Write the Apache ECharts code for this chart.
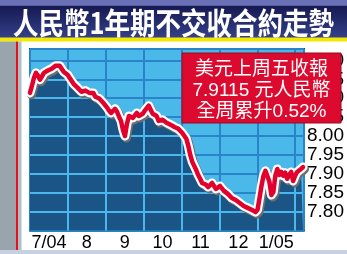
<!DOCTYPE html>
<html><head><meta charset="utf-8">
<script src="https://cdn.jsdelivr.net/npm/echarts@6/dist/echarts.min.js"></script>
<style>html,body{margin:0;padding:0;background:#fff}#c{width:347px;height:254px}</style>
</head><body><div id="c"></div>
<script>
const TITLE = '人民幣1年期不交收合約走勢';
const NOTE = ['美元上周五收報', '7.9115 元人民幣', '全周累升0.52%'];
const MONTH_LABELS = ['7/04', '8', '9', '10', '11', '12', '1/05'];
const Y_LABELS = [7.80, 7.85, 7.90, 7.95, 8.00, 8.05, 8.10, 8.15, 8.20];
const POINTS_PER_MONTH = 19.15;
const VALUES = [
8.114,8.133,8.154,8.167,8.160,8.149,8.157,8.167,8.162,8.173,
8.170,8.178,8.175,8.186,8.191,8.186,8.181,8.170,8.173,8.162,
8.154,8.149,8.138,8.136,8.128,8.125,8.117,8.114,8.120,8.122,
8.114,8.112,8.114,8.104,8.106,8.099,8.096,8.088,8.085,8.075,
8.067,8.061,8.064,8.072,8.064,8.051,8.040,8.016,8.000,8.032,
8.053,8.056,8.048,8.053,8.061,8.053,8.048,8.059,8.067,8.072,
8.080,8.085,8.059,8.061,8.053,8.040,8.043,8.043,8.038,8.035,
8.035,8.030,8.027,8.024,8.022,8.019,8.014,8.008,8.003,7.993,
7.974,7.950,7.932,7.921,7.910,7.897,7.887,7.876,7.871,7.871,
7.865,7.868,7.876,7.871,7.860,7.857,7.868,7.865,7.855,7.852,
7.847,7.842,7.836,7.834,7.831,7.828,7.823,7.820,7.815,7.812,
7.810,7.807,7.805,7.802,7.799,7.805,7.836,7.868,7.895,7.908,
7.905,7.879,7.844,7.852,7.895,7.913,7.897,7.905,7.895,7.903,
7.887,7.897,7.905,7.881,7.895,7.905,7.903,7.913,7.918
];
const Y_MIN = 7.75, Y_MAX = 8.23, X_MAX = 138.5;

const data = VALUES.map((v, i) => [i, v]);

// light gridline segments lying inside the dark area under the curve
function interp(x) {
  const i = Math.min(Math.floor(x), VALUES.length - 2);
  const t = x - i;
  return VALUES[i] + (VALUES[i + 1] - VALUES[i]) * t;
}
const segs = [];
for (let k = 1; k * POINTS_PER_MONTH < VALUES.length - 1; k++) {
  const x = k * POINTS_PER_MONTH;
  segs.push({ coords: [[x, Y_MIN], [x, interp(x)]] });
}
Y_LABELS.forEach(c => {
  let start = VALUES[0] > c ? 0 : null;
  for (let i = 0; i < VALUES.length - 1; i++) {
    const a = VALUES[i], b = VALUES[i + 1];
    if ((a > c) !== (b > c)) {
      const x = i + (c - a) / (b - a);
      if (a <= c) start = x;
      else { segs.push({ coords: [[start, c], [x, c]] }); start = null; }
    }
  }
  if (start !== null) segs.push({ coords: [[start, c], [VALUES.length - 1, c]] });
});

const FONT = '"Liberation Sans", Arial, "Noto Sans CJK TC", sans-serif';
const chart = echarts.init(document.getElementById('c'), null, { renderer: 'canvas' });
chart.setOption({
  backgroundColor: '#ffffff',
  animation: false,
  grid: { left: 30, right: 40, top: 49, bottom: 23.4, show: true,
          backgroundColor: '#4bb8ea', borderColor: '#1d3f78', borderWidth: 2 },
  xAxis: [
    { type: 'value', min: 0, max: X_MAX, interval: POINTS_PER_MONTH,
      axisLine: { show: false }, axisTick: { show: false }, axisLabel: { show: false },
      splitLine: { show: true, lineStyle: { color: '#2a84c8', width: 2 } } },
    { type: 'value', position: 'bottom', min: 0, max: X_MAX, interval: POINTS_PER_MONTH / 2,
      axisLine: { show: false }, axisTick: { show: false }, splitLine: { show: false },
      axisLabel: { show: true, margin: 3, color: '#000', fontSize: 18, fontFamily: FONT,
        formatter: v => {
          const h = POINTS_PER_MONTH / 2;
          const k = Math.round(v / h);
          if (Math.abs(v - k * h) > 1e-6 || k % 2 !== 1) return '';
          return MONTH_LABELS[(k - 1) / 2] || '';
        } } }
  ],
  yAxis: {
    type: 'value', position: 'right', min: Y_MIN, max: Y_MAX, interval: 0.05,
    axisLine: { show: false }, axisTick: { show: false },
    splitLine: { show: true, lineStyle: { color: '#2a84c8', width: 2 } },
    axisLabel: { show: true, margin: 3, color: '#000', fontSize: 19, fontFamily: FONT,
      formatter: v => Y_LABELS.some(t => Math.abs(t - v) < 1e-6) ? v.toFixed(2) : '' }
  },
  series: [
    { type: 'line', data: data, showSymbol: false, z: 2,
      lineStyle: { width: 0 }, areaStyle: { color: '#1b5586', opacity: 1, origin: 'start' } },
    { type: 'lines', coordinateSystem: 'cartesian2d', z: 3, data: segs,
      lineStyle: { color: '#4ab8ec', width: 2, opacity: 1 } },
    { type: 'line', data: data, showSymbol: false, z: 4,
      lineStyle: { color: '#ffffff', width: 9, cap: 'round', join: 'round',
        shadowColor: 'rgba(110,110,110,1)', shadowOffsetX: 1.5, shadowOffsetY: 2, shadowBlur: 0 } },
    { type: 'line', data: data, showSymbol: false, z: 5,
      lineStyle: { color: '#e2002c', width: 4.5, cap: 'round', join: 'round' } }
  ],
  graphic: [
    { type: 'rect', z: 1, shape: { x: 0, y: 0, width: 347, height: 38 },
      style: { fill: { type: 'linear', x: 0, y: 0, x2: 0, y2: 1, colorStops: [
        { offset: 0, color: '#6a70b6' }, { offset: 0.14, color: '#6a70b6' },
        { offset: 0.16, color: '#161a52' }, { offset: 1, color: '#34408a' }] } } },
    { type: 'rect', z: 1, shape: { x: 0, y: 37.5, width: 347, height: 4 }, style: { fill: '#f3e800' } },
    { type: 'rect', z: 1, shape: { x: 0, y: 41.5, width: 16, height: 212.5 }, style: { fill: '#9aa4ac' } },
    { type: 'rect', z: 1, shape: { x: 16, y: 41.5, width: 2, height: 212.5 }, style: { fill: '#e8101c' } },
    { type: 'rect', z: 1, shape: { x: 18, y: 41.5, width: 3.5, height: 212.5 }, style: { fill: '#aebfc6' } },
    { type: 'rect', z: 1, shape: { x: 0, y: 250, width: 347, height: 4 }, style: { fill: '#c6d0e2' } },
    { type: 'text', z: 10, x: 173.5, y: 22.5, scaleX: 0.85,
      style: { text: TITLE, fill: '#ffffff', font: 'bold 30px "Noto Sans CJK TC", sans-serif',
               textAlign: 'center', verticalAlign: 'middle', textVerticalAlign: 'middle' } },
    { type: 'rect', z: 100, shape: { x: 182, y: 53, width: 159, height: 70 },
      style: { fill: '#dc0a2e', stroke: '#9a0820', lineWidth: 1 } },
    { type: 'text', z: 101, x: 261.5, y: 70,
      style: { text: NOTE[0], fill: '#fff', font: '19px ' + FONT, textAlign: 'center', verticalAlign: 'middle', textVerticalAlign: 'middle' } },
    { type: 'text', z: 101, x: 261.5, y: 91,
      style: { text: NOTE[1], fill: '#fff', font: '19px ' + FONT, textAlign: 'center', verticalAlign: 'middle', textVerticalAlign: 'middle' } },
    { type: 'text', z: 101, x: 261.5, y: 111.5,
      style: { text: NOTE[2], fill: '#fff', font: '19px ' + FONT, textAlign: 'center', verticalAlign: 'middle', textVerticalAlign: 'middle' } }
  ]
});
</script>
</body></html>
